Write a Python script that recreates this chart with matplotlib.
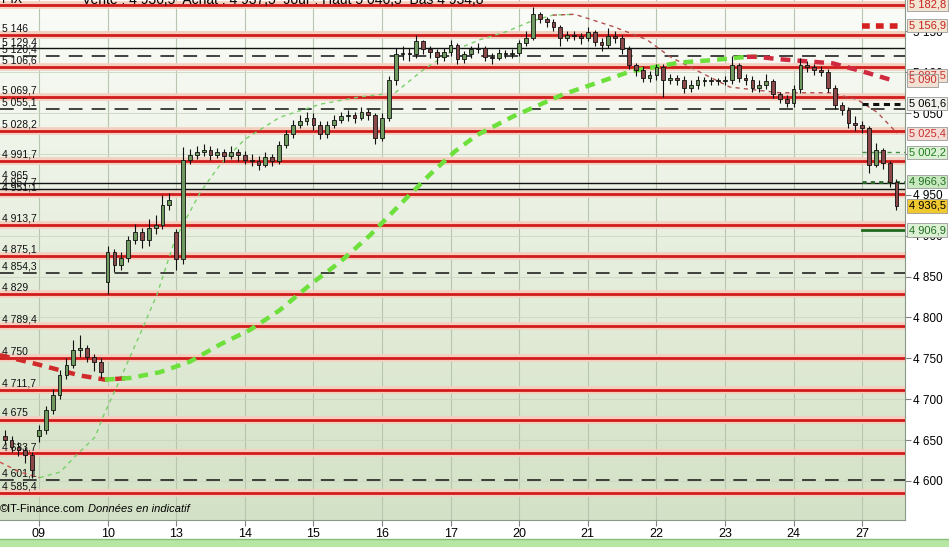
import numpy as np
import matplotlib
matplotlib.use("Agg")
import matplotlib.pyplot as plt
from matplotlib.colors import LinearSegmentedColormap
from matplotlib.patches import Rectangle
from matplotlib.transforms import blended_transform_factory

plt.rcParams["font.family"] = ["Liberation Sans", "DejaVu Sans"]

# sessions shown on the time axis
day_labels = ["09", "10", "13", "14", "15", "16", "17", "20", "21", "22", "23", "24", "27"]

# candles, ten per session, the first five belong to the session before "09"
closes = [
    4650, 4642, 4638, 4632, 4613,
    4662, 4687, 4705, 4730, 4742, 4760, 4763, 4752, 4746, 4733,
    4880, 4864, 4873, 4895, 4905, 4895, 4910, 4913, 4938, 4944,
    4871, 4993, 4999, 5003, 5005, 4999, 5002, 4997, 5003, 4999,
    4993, 4991, 4987, 4996, 4991, 5011, 5024, 5036, 5040, 5044,
    5036, 5024, 5036, 5042, 5046, 5048, 5044, 5051, 5048, 5020,
    5044, 5091, 5122, 5124, 5122, 5138, 5128, 5125, 5119, 5125,
    5134, 5116, 5122, 5128, 5130, 5119, 5118, 5124, 5122, 5124,
    5136, 5142, 5171, 5165, 5162, 5155, 5142, 5146, 5145, 5142,
    5149, 5137, 5134, 5144, 5142, 5128, 5109, 5103, 5093, 5097,
    5106, 5091, 5093, 5091, 5081, 5085, 5091, 5089, 5091, 5089,
    5091, 5109, 5093, 5091, 5081, 5085, 5089, 5073, 5067, 5063,
    5079, 5109, 5106, 5103, 5101, 5081, 5060, 5054, 5038, 5036,
    5032, 4987, 5005, 4989, 4966, 4936.5,
]
highs = [
    4662, 4655, 4648, 4641, 4635,
    4668, 4692, 4712, 4736, 4750, 4772, 4778, 4766, 4755, 4750,
    4887, 4884, 4880, 4900, 4915, 4910, 4920, 4925, 4950, 4952,
    4908, 5009, 5006, 5010, 5012, 5010, 5008, 5006, 5010, 5006,
    5004, 5000, 4997, 5002, 5000, 5016, 5030, 5042, 5048, 5052,
    5050, 5040, 5040, 5048, 5052, 5054, 5052, 5058, 5055, 5050,
    5050, 5095, 5130, 5132, 5130, 5146, 5140, 5132, 5128, 5130,
    5140, 5136, 5126, 5132, 5136, 5132, 5124, 5128, 5127, 5128,
    5140, 5150, 5180, 5174, 5168, 5165, 5158, 5150, 5150, 5148,
    5156, 5152, 5142, 5154, 5150, 5146, 5132, 5112, 5108, 5102,
    5110, 5110, 5098, 5097, 5095, 5090, 5096, 5094, 5094, 5093,
    5096, 5120, 5112, 5098, 5095, 5090, 5098, 5092, 5076, 5072,
    5084, 5118, 5114, 5110, 5108, 5104, 5084, 5064, 5058, 5046,
    5040, 5034, 5014, 5008, 4992, 4970,
]
lows = [
    4645, 4636, 4630, 4622, 4604,
    4648, 4658, 4682, 4700, 4725, 4738, 4752, 4745, 4735, 4726,
    4829, 4856, 4858, 4868, 4890, 4885, 4888, 4902, 4908, 4932,
    4858, 4866, 4988, 4994, 4998, 4993, 4995, 4990, 4994, 4992,
    4988, 4985, 4980, 4984, 4985, 4988, 5008, 5020, 5032, 5036,
    5030, 5018, 5020, 5032, 5038, 5040, 5038, 5042, 5042, 5012,
    5016, 5040, 5085, 5115, 5114, 5118, 5122, 5118, 5110, 5114,
    5120, 5110, 5112, 5118, 5124, 5114, 5110, 5115, 5117, 5118,
    5120, 5132, 5140, 5160, 5156, 5150, 5132, 5138, 5140, 5135,
    5138, 5132, 5126, 5130, 5136, 5122, 5104, 5096, 5088, 5088,
    5090, 5070, 5086, 5084, 5075, 5076, 5080, 5083, 5085, 5084,
    5084, 5086, 5088, 5084, 5076, 5076, 5080, 5068, 5062, 5058,
    5058, 5075, 5100, 5097, 5096, 5076, 5055, 5048, 5032, 5028,
    5026, 4977, 4984, 4982, 4960, 4932,
]
# opening gaps (otherwise a candle opens at the previous close)
gap_opens = {0: 4655, 5: 4655, 15: 4843, 25: 4905}

# short moving average (session index, price)
fast_ma_t = [-0.57, -0.28, 0.01, 0.31, 0.55, 0.82, 0.93, 1.18, 1.47, 1.72, 1.98, 2.35,
             2.64, 3.0, 3.51, 4.1, 4.68, 5.19, 5.6, 6.0, 6.43, 6.82, 7.16, 7.49,
             7.81, 8.37, 8.86, 9.2, 9.64, 10.07, 10.8, 11.53, 11.92, 12.22, 12.51]
fast_ma_v = [4623, 4611, 4604, 4611, 4632, 4654, 4678, 4724, 4779, 4828, 4895, 4953,
             4987, 5018, 5045, 5061, 5070, 5075, 5103, 5125, 5140, 5150, 5162, 5170,
             5171, 5156, 5140, 5119, 5100, 5082, 5075, 5075, 5067, 5051, 5025.4]
# long moving average
slow_ma_t = [-0.57, 0.01, 0.6, 0.96, 1.33, 1.76, 2.2, 2.64, 3.08, 3.51, 3.95, 4.39,
             4.83, 5.26, 5.7, 6.06, 6.38, 6.91, 7.64, 8.13, 8.62, 9.34, 9.83, 10.32,
             10.47, 10.8, 11.57, 12.01, 12.45]
slow_ma_v = [4754, 4742, 4729, 4724, 4726, 4733, 4746, 4767, 4785, 4809, 4840, 4868,
             4901, 4938, 4975, 5003, 5023, 5046, 5073, 5087, 5101, 5112, 5115, 5119,
             5119, 5116, 5111, 5101, 5090]

# horizontal levels
red_levels = [5182.8, 5146, 5106.6, 5069.7, 5028.2, 4991.7, 4951.1, 4913.7, 4875.1,
              4829, 4789.4, 4750, 4711.7, 4675, 4633.7, 4585.4]
black_levels = [5129.4, 4965, 4957.7]
dashed_levels = [5120.4, 5055.1, 4854.3, 4601.1]

# boxed values on the right edge
box_values = [5182.8, 5156.9, 5087.5, 5090.0, 5061.6, 5025.4, 5002.2, 4966.3, 4936.5, 4906.9]
box_text = ["#c82020", "#c82020", "#c83030", "#c83030", "#000000", "#c83030",
            "#208020", "#207020", "#000000", "#207020"]
box_face = ["#f2e6d2", "#f2e6d2", "#f2e0d2", "#f2e0d2", "#f2f2ec", "#f5dcd4",
            "#dcf0d4", "#c8e8c0", "#f0c830", "#dcf0d4"]

y_ticks = [4600, 4650, 4700, 4750, 4800, 4850, 4900, 4950, 5000, 5050, 5100, 5150]


def fmt(v):
    s = f"{v:,.1f}".replace(",", " ").replace(".", ",")
    if v == int(v):
        s = s[:-2]
    return s


fig = plt.figure(figsize=(9.49, 5.47), dpi=100)
ax = fig.add_axes([0, 27 / 547, 905 / 949, 520 / 547])

x0, x1 = -0.5685, 12.624
y0, y1 = 4552.2, 5188.5

# background gradient
cmap = LinearSegmentedColormap.from_list("bg", ["#fbfcf8", "#e6eedd", "#d3e2c6"])
ax.imshow(np.linspace(0, 1, 256).reshape(-1, 1), cmap=cmap, aspect="auto",
          extent=[x0, x1, y0, y1], origin="upper", zorder=0)

# grid
for i in range(len(day_labels)):
    ax.axvline(i, color="#b8c6b0", lw=0.8, zorder=1)
for v in y_ticks:
    ax.axhline(v, color="#cbd6c3", lw=0.6, zorder=1)

# levels
for v in red_levels:
    ax.axhline(v, color="#f4cfc0", lw=5.5, zorder=2)
    ax.axhline(v, color="#d21c1c", lw=2.0, zorder=3)
for v in black_levels:
    ax.axhline(v, color="#111111", lw=1.0, zorder=3)
for v in dashed_levels:
    ax.axhline(v, color="#111111", lw=1.1, dashes=(9, 6), zorder=3)

trans = blended_transform_factory(ax.transAxes, ax.transData)
for v in red_levels[1:] + black_levels + dashed_levels:
    ax.text(0.002, v + 1.5, fmt(v), transform=trans, fontsize=7.5, va="bottom",
            ha="left", color="#111111", zorder=4)

# moving averages
fast_t = np.array(fast_ma_t)
fast_v = np.array(fast_ma_v)
parts = [(fast_t <= 0.01, "#d05050"), ((fast_t >= 0.01) & (fast_t <= 7.81), "#7ad06a"),
         (fast_t >= 7.49, "#b05050")]
for mask, c in parts:
    ax.plot(fast_t[mask], fast_v[mask], color=c, lw=1.0, dashes=(3, 3), zorder=5)

slow_t = np.array(slow_ma_t)
slow_v = np.array(slow_ma_v)
parts = [(slow_t <= 1.33, "#d02a2a"), ((slow_t >= 0.96) & (slow_t <= 10.47), "#6ee03c"),
         (slow_t >= 10.32, "#d02a40")]
for mask, c in parts:
    ax.plot(slow_t[mask], slow_v[mask], color=c, lw=3.2, dashes=(2.2, 1.6), zorder=5)

# candles
n = len(closes)
t = np.arange(n) * 0.1 - 0.5
opens = [gap_opens.get(i, closes[i - 1]) for i in range(n)]
ax.vlines(t, lows, highs, color="#111111", lw=0.8, zorder=6)
for i in range(n):
    o, c = opens[i], closes[i]
    body = max(abs(c - o), 1.0)
    col = "#6f9a5f" if c >= o else "#8a4848"
    ax.bar(t[i], body, bottom=min(o, c), width=0.055, color=col,
           edgecolor="#111111", linewidth=0.6, zorder=7)

# short right-edge markers
ax.plot([12.0, 12.55], [5156.9, 5156.9], color="#d42020", lw=4, dashes=(1.4, 1.1), zorder=5)
ax.plot([12.0, 12.55], [5061.6, 5061.6], color="#111111", lw=2.2, dashes=(2, 1.5), zorder=5)
ax.plot([12.0, 12.62], [5002.2, 5002.2], color="#409040", lw=1.0, dashes=(3, 3), zorder=5)
ax.plot([12.0, 12.62], [4966.3, 4966.3], color="#2a6a2a", lw=2.0, dashes=(1.5, 1.5), zorder=5)
ax.plot([12.0, 12.62], [4906.9, 4906.9], color="#1f6a1f", lw=2.0, zorder=5)

ax.set_xlim(x0, x1)
ax.set_ylim(y0, y1)

ax.set_xticks(range(len(day_labels)))
ax.set_xticklabels(day_labels, fontsize=9)
ax.yaxis.tick_right()
ax.set_yticks(y_ticks)
ax.set_yticklabels([fmt(v) for v in y_ticks], fontsize=8.5)
ax.tick_params(axis="both", length=4, color="#808080", pad=2)
for side in ["left", "top"]:
    ax.spines[side].set_visible(False)
for side in ["right", "bottom"]:
    ax.spines[side].set_color("#8a9888")

# value boxes on the right
shift = {2: 9}
for i, v in enumerate(box_values):
    ax.text(1.004, v + shift.get(i, 0), fmt(v), transform=trans, fontsize=8,
            color=box_text[i], va="center", ha="left", clip_on=False, zorder=20,
            bbox=dict(boxstyle="square,pad=0.15", fc=box_face[i], ec="#9a9a9a", lw=0.6))

ax.text(0.0, 0.012, "\u00a9IT-Finance.com", transform=ax.transAxes, fontsize=8,
        va="bottom", ha="left", zorder=8)
ax.text(0.097, 0.012, "Donn\u00e9es en indicatif", transform=ax.transAxes, fontsize=8,
        style="italic", va="bottom", ha="left", zorder=8)

# header, cut off by the top edge as in the source
fig.text(82 / 949, 1.0, "Vente : 4 936,5  Achat : 4 937,5  Jour : Haut 5 046,3  Bas 4 934,8",
         fontsize=10, va="center", ha="left")
fig.text(0.002, 1.0, "PIX", fontsize=9, va="center", ha="left")

# bottom green band
fig.add_artist(Rectangle((0, 0), 1, 8 / 547, transform=fig.transFigure,
                         facecolor="#b6e6a2", edgecolor="none"))
fig.add_artist(plt.Line2D([0, 1], [8 / 547, 8 / 547], transform=fig.transFigure,
                          color="#88c078", lw=1))

fig.savefig("out.png", dpi=100)
